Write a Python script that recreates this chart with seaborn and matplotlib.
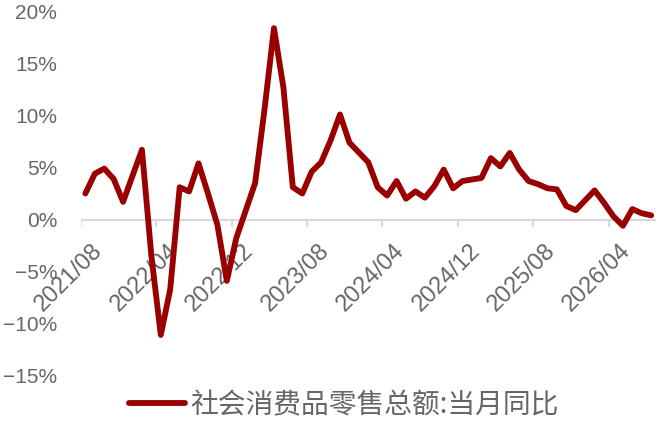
import pandas as pd
import matplotlib
matplotlib.use('Agg')
import matplotlib.pyplot as plt
import matplotlib.transforms as mtransforms
import seaborn as sns

# monthly yoy, January folded into February (no January points)
dates = ['2021/08', '2021/09', '2021/10', '2021/11', '2021/12',
         '2022/02', '2022/03', '2022/04', '2022/05', '2022/06', '2022/07', '2022/08',
         '2022/09', '2022/10', '2022/11', '2022/12',
         '2023/02', '2023/03', '2023/04', '2023/05', '2023/06', '2023/07', '2023/08',
         '2023/09', '2023/10', '2023/11', '2023/12',
         '2024/02', '2024/03', '2024/04', '2024/05', '2024/06', '2024/07', '2024/08',
         '2024/09', '2024/10', '2024/11', '2024/12',
         '2025/02', '2025/03', '2025/04', '2025/05', '2025/06', '2025/07', '2025/08',
         '2025/09', '2025/10', '2025/11', '2025/12',
         '2026/02', '2026/03', '2026/04', '2026/05', '2026/06', '2026/07', '2026/08']
values = [2.5, 4.4, 4.9, 3.9, 1.7,
          6.7, -3.5, -11.1, -6.7, 3.1, 2.7, 5.4,
          2.5, -0.5, -5.9, -1.8,
          3.5, 10.6, 18.4, 12.7, 3.1, 2.5, 4.6,
          5.5, 7.6, 10.1, 7.4,
          5.5, 3.1, 2.3, 3.7, 2.0, 2.7, 2.1,
          3.2, 4.8, 3.0, 3.7,
          4.0, 5.9, 5.1, 6.4, 4.8, 3.7, 3.4,
          3.0, 2.9, 1.3, 0.9,
          2.8, 1.6, 0.3, -0.6, 1.0, 0.6, 0.4]
series_name = '社会消费品零售总额:当月同比'

x_tick_labels = ['2021/08', '2022/04', '2022/12', '2023/08',
                 '2024/04', '2024/12', '2025/08', '2026/04']
y_ticks = [-15, -10, -5, 0, 5, 10, 15, 20]
y_tick_labels = ['−15%', '−10%', '−5%', '0%', '5%', '10%', '15%', '20%']

START = pd.Period('2021-08', freq='M')


def month_index(s):
    return (pd.Period(s.replace('/', '-'), freq='M') - START).n


df = pd.DataFrame({'date': dates, 'value': values})
df['x'] = df['date'].map(month_index) + 0.5  # points sit mid-month

sns.set_theme(style='white')
plt.rcParams['font.family'] = ['Liberation Sans', 'DejaVu Sans']

fig = plt.figure(figsize=(6.61, 4.21), dpi=100)
ax = fig.add_axes([0.122, 0.108, 0.8703, 0.8647])

sns.lineplot(data=df, x='x', y='value', ax=ax, color='#990000', linewidth=4.2,
             sort=False, estimator=None, label=series_name, legend=False)

gray = '#666666'
ax.set_xlim(0, month_index('2026/08') + 1)
ax.set_ylim(-15, 20)
ax.set_yticks(y_ticks)
ax.set_yticklabels(y_tick_labels)
ax.set_xticks([month_index(d) for d in x_tick_labels])
ax.set_xticklabels(x_tick_labels, rotation=45, ha='right', va='top',
                   rotation_mode='anchor')
ax.set_xlabel('')
ax.set_ylabel('')

for s in ['top', 'right', 'left', 'bottom']:
    ax.spines[s].set_visible(False)
ax.axhline(0, color='#d9d9d9', linewidth=1.5, zorder=0)

ax.tick_params(axis='y', length=0, pad=17, labelsize=15, labelcolor=gray)
ax.tick_params(axis='x', length=0, pad=2, labelsize=17, labelcolor=gray)

# x tick marks hang below the zero line
for m in ax.get_xticks():
    ax.plot([m, m], [0, -0.7], color='#d9d9d9', linewidth=1.5, zorder=0,
            solid_capstyle='butt')

# pull the rotated date labels up next to the zero line
y0 = ax.transData.transform((0, 0))[1] - ax.transAxes.transform((0, 0))[1]
offset = mtransforms.ScaledTranslation(11 / 100, y0 / 100 - 17 / 100, fig.dpi_scale_trans)
for lab in ax.get_xticklabels():
    lab.set_transform(lab.get_transform() + offset)

leg = fig.legend(handles=ax.get_lines()[:1], labels=[series_name], loc='center',
                 bbox_to_anchor=(0.52, 0.038), frameon=False, handlelength=2.0,
                 handletextpad=0.2, prop={'family': ['Noto Sans CJK SC', 'DejaVu Sans'],
                                          'size': 20})
for t in leg.get_texts():
    t.set_color(gray)

fig.savefig('out.png', dpi=100)
